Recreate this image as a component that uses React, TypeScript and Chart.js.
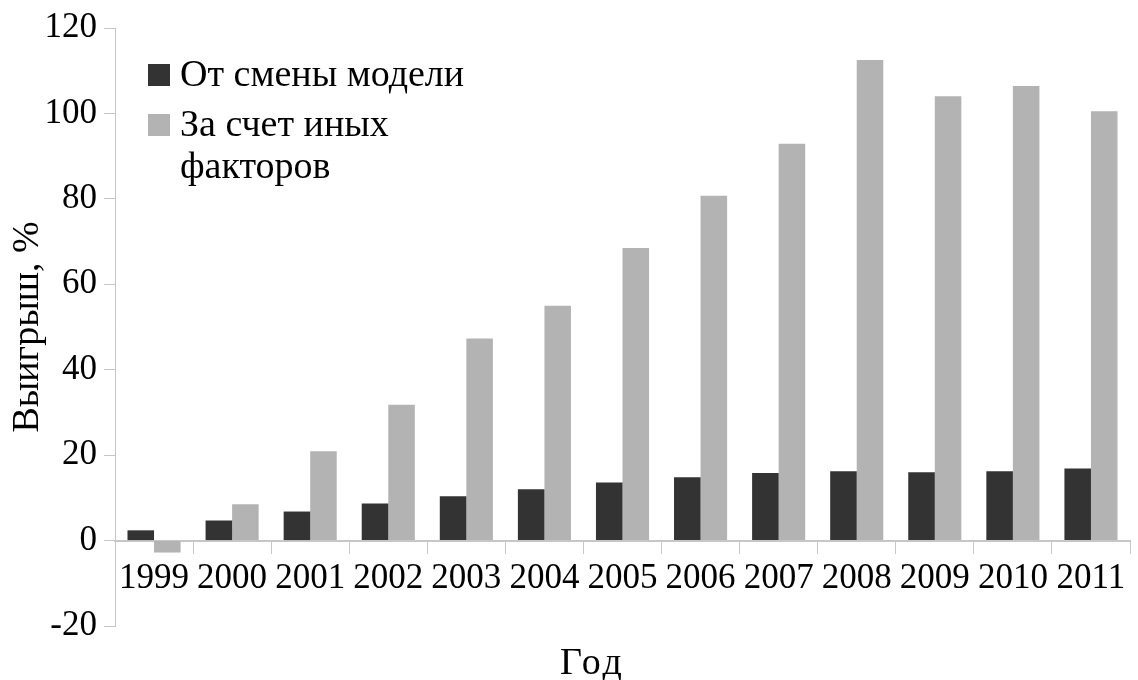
import React, { useEffect, useRef } from "react";
import { Chart, registerables } from "chart.js";

Chart.register(...registerables);

const years = ["1999", "2000", "2001", "2002", "2003", "2004", "2005", "2006", "2007", "2008", "2009", "2010", "2011"];
const modelGain = [2.4, 4.7, 6.8, 8.7, 10.4, 12.0, 13.6, 14.8, 15.8, 16.2, 16.0, 16.2, 16.9];
const otherGain = [-2.8, 8.5, 20.9, 31.8, 47.3, 55.0, 68.5, 80.7, 92.9, 112.5, 104.0, 106.4, 100.5];
const seriesLabels = ["От смены модели", "За счет иных факторов"];
const legendLines = [["От смены модели"], ["За счет иных", "факторов"]];
const seriesColors = ["#333333", "#b3b3b3"];
const yTitle = "Выигрыш, %";
const xTitle = "Год";

const FONT = "'Liberation Serif', 'Times New Roman', serif";
const FS = 35;
const FT = 38;
const AXIS = "#c6c6c6";

const legendPlugin = {
  id: "insideLegend",
  afterDraw(chart: any) {
    const { ctx, chartArea } = chart;
    const x0 = chartArea.left + 33;
    let y = chartArea.top + 47;
    ctx.save();
    ctx.font = `${FT}px ${FONT}`;
    ctx.textBaseline = "middle";
    legendLines.forEach((lines, i) => {
      ctx.fillStyle = seriesColors[i];
      ctx.fillRect(x0, y - 11, 22, 22);
      ctx.fillStyle = "#000";
      lines.forEach((ln, j) => {
        ctx.fillText(ln, x0 + 32, y + 1 + j * 42);
      });
      y += 50;
    });
    // x-axis title
    ctx.textAlign = "center";
    ctx.textBaseline = "alphabetic";
    try {
      (ctx as any).letterSpacing = "3px";
    } catch (e) {}
    const cx = (chartArea.left + chartArea.right) / 2 - 30;
    ctx.fillText(xTitle, cx, chartArea.bottom + 48);
    ctx.restore();
  },
};

export default function App() {
  const ref = useRef<HTMLCanvasElement>(null);
  useEffect(() => {
    document.body.style.margin = "0";
    const chart = new Chart(ref.current!, {
      type: "bar",
      data: {
        labels: years,
        datasets: [
          { label: seriesLabels[0], data: modelGain, backgroundColor: seriesColors[0] },
          { label: seriesLabels[1], data: otherGain, backgroundColor: seriesColors[1] },
        ],
      },
      options: {
        animation: false,
        responsive: false,
        maintainAspectRatio: false,
        layout: { padding: { top: 17, right: 8, left: 0, bottom: 54 } },
        datasets: { bar: { categoryPercentage: 0.68, barPercentage: 1.0 } },
        plugins: {
          legend: { display: false },
          tooltip: { enabled: false },
          title: { display: false },
        },
        scales: {
          x: {
            position: { y: 0 } as any,
            grid: { drawOnChartArea: false, drawTicks: true, tickLength: 12, color: AXIS, offset: true },
            border: { display: true, color: AXIS, width: 2 },
            ticks: { color: "#000", font: { family: FONT, size: FS }, padding: 5, maxRotation: 0, autoSkip: false },
          },
          y: {
            min: -20,
            max: 120,
            afterFit: (s: any) => {
              s.width = 115;
            },
            grid: { drawOnChartArea: false, drawTicks: true, tickLength: 11, color: AXIS },
            border: { display: true, color: AXIS, width: 1 },
            ticks: { stepSize: 20, color: "#000", font: { family: FONT, size: FS }, padding: 7 },
            title: {
              display: true,
              text: yTitle,
              color: "#000",
              font: { family: FONT, size: FT },
              padding: { top: 5, bottom: 0 },
            },
          },
        },
      },
      plugins: [legendPlugin],
    });
    return () => chart.destroy();
  }, []);
  return (
    <div style={{ width: 1138, height: 680 }}>
      <canvas ref={ref} width={1138} height={680} />
    </div>
  );
}
